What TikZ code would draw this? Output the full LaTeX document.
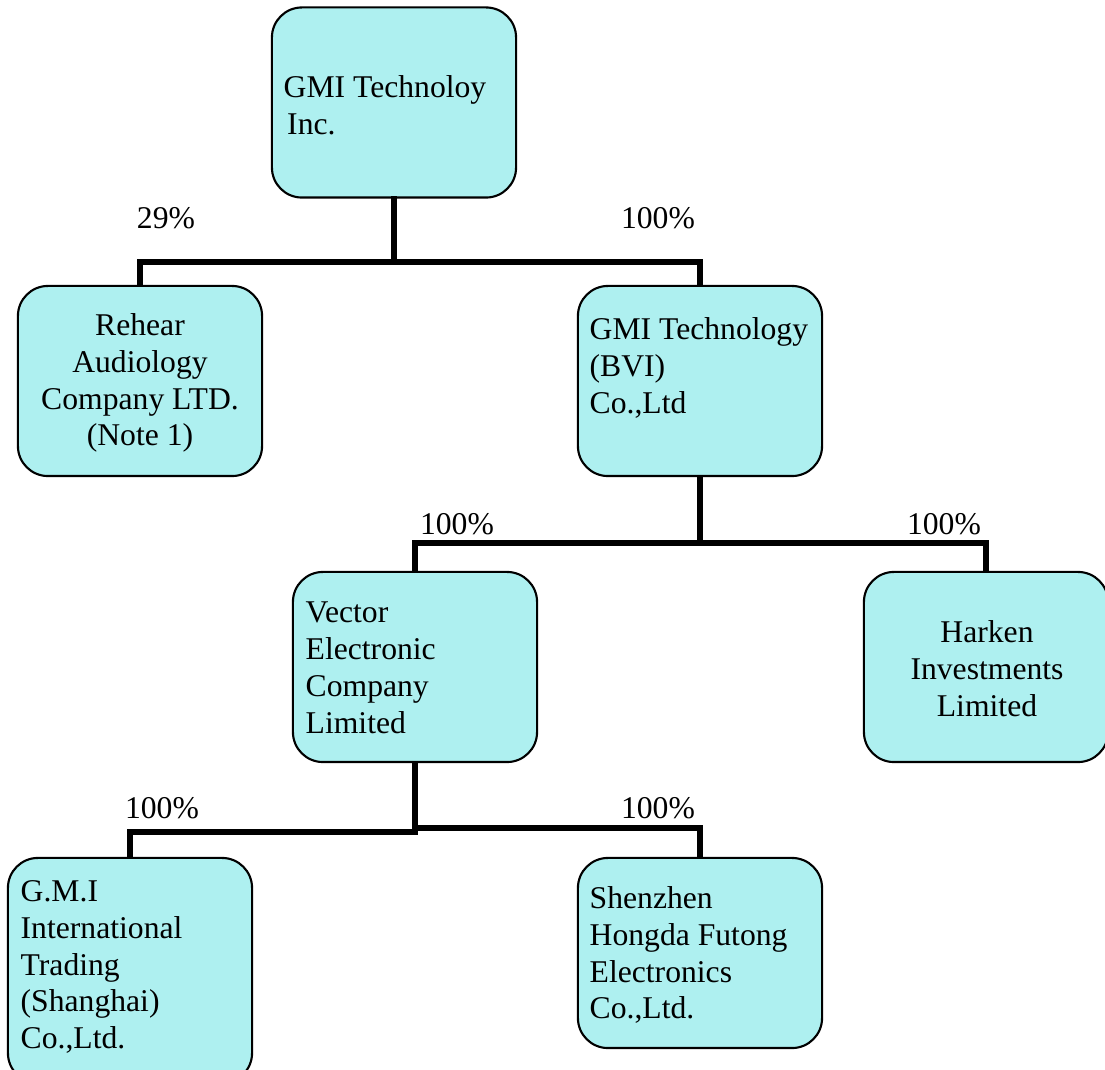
\documentclass[tikz,border=0pt]{standalone}
\usepackage{fontspec}
\setmainfont{Liberation Serif}
\definecolor{boxfill}{RGB}{174,240,240}
\begin{document}
\begin{tikzpicture}[x=0.01cm,y=-0.01cm,
  orgbox/.style={draw=black,line width=0.6pt,fill=boxfill,rounded corners=0.3cm,
    minimum width=2.44cm,minimum height=1.9cm,inner sep=0pt},
  txt/.style={inner sep=0pt,font=\fontsize{9}{10.5}\selectfont},
  txtl/.style={txt,align=left,anchor=west},
  txtc/.style={txt,align=center,anchor=center},
  conn/.style={line width=1.45pt,line cap=rect,line join=miter},
  pct/.style={inner sep=0pt,font=\fontsize{9}{10.5}\selectfont}]
\useasboundingbox (0,0) rectangle (1105,1070);
\clip (0,0) rectangle (1105,1070);
% connectors
\coordinate (j1) at (394,262);
\coordinate (j2) at (700,543);
\coordinate (j3a) at (415,832);
\coordinate (j3b) at (415,828);
% boxes
\node[orgbox] (top) at (394,102.5) {};
\node[orgbox] (rehear) at (140,381) {};
\node[orgbox] (bvi) at (700,381) {};
\node[orgbox] (vector) at (415,667) {};
\node[orgbox] (harken) at (986,667) {};
\node[orgbox,minimum height=2.25cm] (gmi) at (130,970.5) {};
\node[orgbox] (shen) at (700,953) {};
% lines
\draw[conn] (top.south) -- (j1);
\draw[conn] (rehear.north) -- (rehear.north |- j1) -- (bvi.north |- j1) -- (bvi.north);
\draw[conn] (bvi.south) -- (j2);
\draw[conn] (vector.north) -- (vector.north |- j2) -- (harken.north |- j2) -- (harken.north);
\draw[conn] (vector.south) -- (j3a);
\draw[conn] (gmi.north) -- (gmi.north |- j3a) -- (j3a);
\draw[conn] (j3b) -- (shen.north |- j3b) -- (shen.north);
% texts
\node[txtl] (ttop) at (283,105) {GMI Technoloy\\\hspace{1pt}Inc.};
\node[txtc] (trehear) at (140,383) {Rehear\\Audiology\\Company LTD.\\(Note 1)};
\node[txtl] (tbvi) at (589,368) {GMI Technology\\(BVI)\\Co.,Ltd};
\node[txtl] (tvector) at (305,668) {Vector\\Electronic\\Company\\Limited};
\node[txtc] (tharken) at (987,669) {Harken\\Investments\\Limited};
\node[txtl] (tgmi) at (20,967) {G.M.I\\International\\Trading\\(Shanghai)\\Co.,Ltd.};
\node[txtl] (tshen) at (589,955) {Shenzhen\\Hongda Futong\\Electronics\\Co.,Ltd.};
% percentages
\node[pct] (p1) at (166,218) {29\%};
\node[pct] (p2) at (658,218) {100\%};
\node[pct] (p3) at (457,524) {100\%};
\node[pct] (p4) at (944,524) {100\%};
\node[pct] (p5) at (162,808) {100\%};
\node[pct] (p6) at (658,808) {100\%};
\end{tikzpicture}
\end{document}
